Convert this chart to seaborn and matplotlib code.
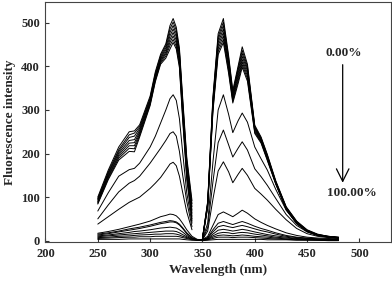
import matplotlib
matplotlib.use("Agg")
import matplotlib.pyplot as plt
import seaborn as sns
import pandas as pd

# --- Data ---

wl_left = [250, 260, 270, 280, 285, 290, 300, 305, 310, 315, 319, 322, 325, 328, 331, 335, 340]
wl_right = [345, 350, 355, 360, 365, 370, 375, 379, 384, 388, 393, 400, 406, 412, 420, 430, 440, 450, 460, 470, 480]

# upper cluster (low concentrations)
top_left = [
    [100, 162, 215, 250, 252, 266, 332, 388, 428, 452, 494, 510, 490, 442, 332, 192, 92],
    [97, 158, 209, 243, 247, 262, 328, 384, 424, 448, 486, 502, 483, 436, 325, 185, 85],
    [95, 155, 205, 237, 240, 258, 325, 380, 420, 443, 478, 494, 475, 430, 318, 178, 78],
    [93, 152, 201, 230, 232, 254, 322, 377, 417, 438, 470, 486, 468, 423, 310, 170, 70],
    [90, 149, 197, 224, 225, 250, 319, 374, 414, 433, 462, 478, 460, 416, 302, 162, 63],
    [88, 146, 193, 218, 218, 246, 316, 371, 411, 429, 455, 470, 453, 410, 295, 155, 56],
    [86, 143, 189, 212, 211, 242, 313, 368, 408, 424, 448, 462, 446, 403, 288, 148, 50],
    [84, 140, 185, 205, 204, 238, 310, 365, 405, 419, 440, 455, 440, 397, 280, 140, 45],
]
top_right = [
    [None, 5, 90, 330, 475, 510, 425, 345, 400, 445, 405, 265, 238, 198, 138, 78, 45, 25, 15, 10, 8],
    [None, 5, 88, 325, 468, 502, 420, 340, 395, 437, 400, 262, 236, 196, 136, 77, 44, 24, 14, 10, 8],
    [None, 5, 86, 320, 462, 494, 414, 336, 390, 430, 395, 260, 234, 194, 135, 76, 43, 23, 14, 10, 7],
    [None, 4, 84, 315, 455, 486, 408, 332, 384, 423, 390, 258, 232, 192, 134, 75, 42, 23, 13, 9, 7],
    [None, 4, 82, 310, 448, 478, 402, 328, 378, 416, 384, 255, 230, 190, 133, 74, 41, 22, 13, 9, 7],
    [None, 4, 80, 305, 441, 470, 396, 324, 372, 410, 378, 252, 228, 188, 132, 73, 40, 22, 13, 9, 7],
    [None, 4, 78, 300, 434, 462, 390, 320, 366, 404, 372, 249, 226, 186, 131, 72, 40, 21, 12, 9, 6],
    [None, 4, 76, 295, 427, 455, 384, 316, 360, 398, 366, 246, 224, 184, 130, 71, 39, 21, 12, 9, 6],
]

# three intermediate spectra
mid_left = [
    [68, 110, 148, 163, 166, 178, 215, 240, 270, 300, 326, 335, 322, 280, 205, 110, 40],
    [50, 82, 112, 132, 138, 148, 178, 195, 212, 230, 246, 250, 240, 205, 152, 90, 32],
    [38, 55, 72, 88, 94, 100, 120, 132, 145, 162, 176, 180, 172, 148, 112, 66, 25],
]
mid_right = [
    [None, 3, 40, 180, 300, 335, 290, 248, 275, 293, 272, 215, 188, 162, 118, 70, 40, 22, 13, 9, 7],
    [None, 2, 30, 135, 225, 254, 220, 192, 212, 227, 208, 165, 147, 127, 97, 60, 35, 20, 12, 8, 6],
    [None, 2, 22, 95, 160, 181, 158, 133, 152, 166, 150, 120, 107, 93, 72, 48, 28, 16, 10, 7, 5],
]

# quenched spectra near the baseline
low_left = [
    [17, 21, 26, 32, 35, 38, 45, 50, 55, 58, 61, 60, 57, 50, 40, 25, 10],
    [15, 18, 22, 27, 29, 31, 36, 39, 42, 44, 46, 45, 43, 38, 30, 18, 7],
    [13, 16, 20, 24, 26, 28, 33, 36, 39, 41, 43, 43, 41, 36, 28, 16, 6],
    [11, 13, 16, 19, 21, 22, 25, 27, 29, 30, 31, 30, 29, 25, 20, 12, 5],
    [9, 11, 13, 15, 16, 17, 19, 20, 21, 22, 22, 22, 21, 18, 14, 9, 4],
    [7, 8, 10, 11, 12, 13, 14, 15, 15, 16, 16, 16, 15, 13, 10, 7, 3],
    [5, 6, 7, 8, 8, 9, 9, 10, 10, 10, 10, 10, 10, 9, 7, 5, 2],
    [3, 3, 3, 4, 4, 4, 4, 4, 4, 4, 4, 4, 4, 4, 3, 2, 1],
]
low_right = [
    [3, 2, 10, 35, 60, 66, 60, 55, 63, 70, 63, 50, 42, 35, 27, 18, 12, 8, 6, 5, 4],
    [2, 2, 7, 25, 40, 44, 40, 37, 41, 44, 40, 33, 28, 24, 18, 12, 8, 6, 4, 3, 3],
    [2, 2, 6, 20, 32, 35, 32, 30, 33, 35, 32, 27, 23, 20, 15, 10, 7, 5, 4, 3, 2],
    [2, 1, 5, 15, 24, 26, 24, 22, 24, 26, 24, 20, 17, 14, 11, 8, 5, 4, 3, 2, 2],
    [1, 1, 4, 11, 17, 19, 18, 16, 18, 19, 18, 15, 13, 11, 8, 6, 4, 3, 2, 2, 1],
    [1, 1, 3, 8, 12, 13, 12, 11, 12, 13, 12, 10, 9, 8, 6, 4, 3, 2, 2, 1, 1],
    [1, 1, 2, 5, 8, 8, 8, 7, 8, 8, 8, 7, 6, 5, 4, 3, 2, 2, 1, 1, 1],
    [1, 0, 1, 2, 3, 3, 3, 3, 3, 3, 3, 3, 3, 2, 2, 2, 1, 1, 1, 0, 0],
]

x_ticks = [200, 250, 300, 350, 400, 450, 500]
y_ticks = [0, 100, 200, 300, 400, 500]


# --- Long table, one unit per drawn segment ---

rows = []
for i, (left, right) in enumerate(zip(top_left + mid_left, top_right + mid_right)):
    rows += [(f"h{i}a", w, v) for w, v in zip(wl_left, left)]
    rows += [(f"h{i}b", w, v) for w, v in zip(wl_right, right)]
for i, (left, right) in enumerate(zip(low_left, low_right)):
    rows += [(f"l{i}", w, v) for w, v in zip(wl_left + wl_right, left + right)]
df = pd.DataFrame(rows, columns=["seg", "wavelength", "intensity"]).dropna()

sns.set_style("white")
plt.rcParams["font.family"] = ["Liberation Serif", "DejaVu Serif"]

fig = plt.figure(figsize=(3.92, 2.83), dpi=100)
ax = fig.add_axes([0.116, 0.145, 0.881, 0.848])

sns.lineplot(data=df, x="wavelength", y="intensity", units="seg", estimator=None,
             sort=False, color="black", lw=0.7, ax=ax)

ax.set_xlim(200, 530)
ax.set_ylim(-3, 548)
ax.set_xticks(x_ticks)
ax.set_yticks(y_ticks)
ax.tick_params(direction="in", length=3, width=0.8, color="#333333", pad=4,
               labelsize=9, bottom=True, left=True)
for lab in ax.get_xticklabels() + ax.get_yticklabels():
    lab.set_fontweight("bold")
for sp in ax.spines.values():
    sp.set_visible(True)
    sp.set_color("#444444")
    sp.set_linewidth(0.8)

ax.set_xlabel("Wavelength (nm)", fontsize=9.5, fontweight="bold", labelpad=3)
ax.set_ylabel("Fluorescence intensity", fontsize=9.5, fontweight="bold", labelpad=4)

ax.text(485, 431, "0.00%", ha="center", va="center", fontsize=9.5, fontweight="bold")
ax.text(493, 109, "100.00%", ha="center", va="center", fontsize=9.5, fontweight="bold")
ax.annotate("", xy=(484, 133), xytext=(484, 404),
            arrowprops=dict(arrowstyle="->,head_length=0.9,head_width=0.45",
                            lw=0.9, color="black", shrinkA=0, shrinkB=0))

fig.savefig("out.png", dpi=100)
